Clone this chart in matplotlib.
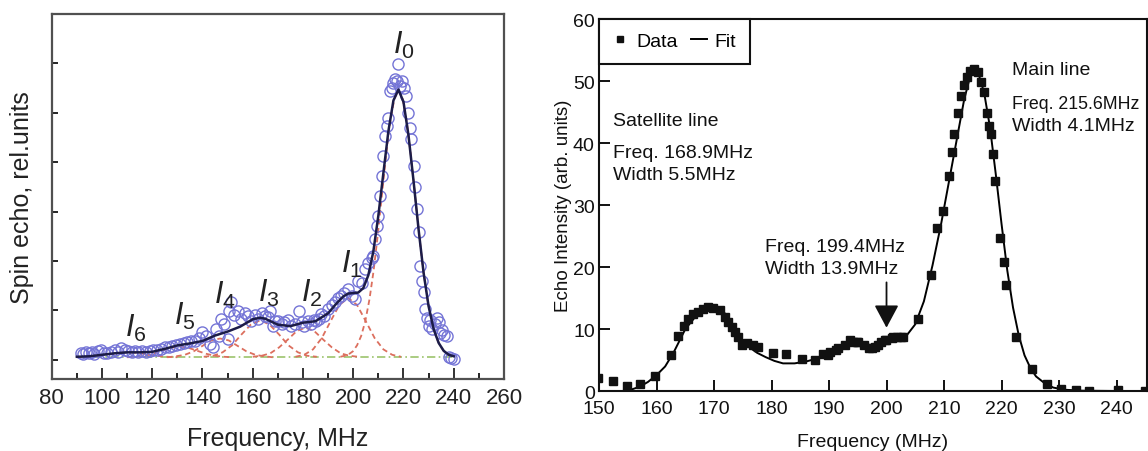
import matplotlib
matplotlib.use("Agg")
import matplotlib.pyplot as plt
from matplotlib.ticker import MultipleLocator

plt.rcParams['font.family'] = ['Liberation Sans', 'DejaVu Sans']
plt.rcParams['mathtext.fontset'] = 'custom'
plt.rcParams['mathtext.rm'] = 'Liberation Sans'
plt.rcParams['mathtext.it'] = 'Liberation Sans:italic'

# ---------------- left panel: spin echo spectrum ----------------
left_freq = [91.5, 92.5, 93.5, 95, 96, 97, 98.5, 99.5, 101, 102, 103.5, 105, 106.5,
             107.5, 109, 110.5, 112, 113, 114.5, 116, 117.5, 119, 120.5, 122, 123.5,
             125, 126.5, 128, 129.5, 131, 132.5, 134, 135.5, 137, 138.5, 140, 141.5,
             143, 144, 145.5, 146.5, 147.5, 148.5, 150, 150.5, 151.5, 152.5, 154,
             155.5, 157, 158, 159.5, 161, 162, 163.5, 165, 166, 167, 168, 169, 170,
             171.5, 172.6, 174, 175.3, 177, 178.6, 179.5, 180.6, 182, 183.3, 184.5,
             185.3, 186.5, 187.3, 188.5, 190, 191.5, 192.6, 194, 195.3, 196.5, 198,
             199.5, 200.6, 202, 203.3, 204.6, 206, 207.3, 208, 208.7, 209.4, 210,
             210.7, 211.3, 212, 212.7, 213.3, 214, 214.6, 215.3, 216, 216.6, 217.3,
             218, 218.7, 219.3, 220.4, 221, 221.7, 222.4, 223, 224, 224.6, 225.3,
             226, 226.7, 227.4, 228, 228.7, 229.4, 230, 230.7, 231.3, 232.5, 233.3,
             234, 234.7, 235.5, 236.3, 237.3, 238, 239, 240]
left_echo = [0.14, 0.12, 0.15, 0.13, 0.16, 0.12, 0.18, 0.20, 0.14, 0.13, 0.16, 0.19, 0.15,
             0.24, 0.20, 0.17, 0.15, 0.18, 0.15, 0.17, 0.16, 0.18, 0.20, 0.20, 0.22,
             0.25, 0.26, 0.27, 0.30, 0.31, 0.33, 0.36, 0.38, 0.37, 0.45, 0.56, 0.48,
             0.32, 0.26, 0.62, 0.49, 0.82, 0.72, 0.42, 0.99, 1.17, 0.90, 0.99,
             0.82, 0.95, 0.89, 0.78, 0.90, 0.82, 0.95, 0.88, 0.86, 0.98, 0.69, 0.78, 0.79,
             0.72, 0.76, 0.80, 0.69, 0.72, 0.99, 0.76, 0.69, 0.78, 0.72, 0.80,
             0.79, 0.82, 0.92, 0.88, 1.03, 1.10, 1.16, 1.25, 1.30, 1.35, 1.43,
             1.30, 1.23, 1.60, 1.55, 1.84, 1.95, 2.05, 2.10, 2.44, 2.70, 2.91,
             3.32, 3.72, 4.13, 4.53, 4.74, 4.90, 5.45, 5.51, 5.60, 5.68, 5.65,
             5.98, 5.55, 5.65, 5.51, 5.34, 5.00, 4.70, 4.47, 3.93, 3.50, 3.05,
             2.58, 1.90, 1.60, 1.37, 1.03, 0.85, 0.69, 0.80, 0.62, 0.72, 0.85,
             0.76, 0.55, 0.60, 0.50, 0.49, 0.05, 0.03, 0.02]

fit_freq = [90, 95, 100, 105, 110, 115, 120, 125, 130, 135, 140, 145, 150, 155, 160,
            163, 165, 170, 175, 180, 185, 190, 193, 196, 198, 200, 202, 204, 206,
            208, 210, 212, 214, 216, 218, 220, 222, 224, 226, 228, 230, 232, 234,
            236, 238, 240]
fit_echo = [0.06, 0.07, 0.10, 0.13, 0.15, 0.15, 0.16, 0.22, 0.29, 0.33, 0.38, 0.49,
            0.57, 0.67, 0.82, 0.85, 0.83, 0.71, 0.68, 0.75, 0.78, 0.94, 1.12, 1.28,
            1.34, 1.35, 1.36, 1.45, 1.71, 2.19, 2.92, 3.78, 4.63, 5.25, 5.47, 5.22,
            4.54, 3.62, 2.64, 1.76, 1.08, 0.62, 0.34, 0.18, 0.10, 0.07]

baseline_freq = [90, 240]
baseline_echo = [0.05, 0.05]

# fitted components I0 .. I6
comp_freq = {
    '0': [194.9, 196.55, 198.2, 199.85, 201.5, 203.15, 204.8, 206.45, 208.1, 209.75,
          211.4, 213.05, 214.7, 216.35, 218, 219.65, 221.3, 222.95, 224.6, 226.25,
          227.9, 229.55, 231.2, 232.85, 234.5, 236.15, 237.8, 239.45],
    '1': [177, 180.5, 184, 187.5, 191, 194.5, 198, 201.5, 205, 208.5, 212, 215.5, 219],
    '2': [160, 163.5, 167, 170.5, 174, 177.5, 181, 184.5, 188, 191.5, 195, 198.5, 202],
    '3': [140.5, 144.25, 148, 151.75, 155.5, 159.25, 163, 166.75, 170.5, 174.25, 178,
          181.75, 185.5],
    '4': [126, 129.5, 133, 136.5, 140, 143.5, 147, 150.5, 154, 157.5, 161, 164.5, 168],
    '5': [110, 113.5, 117, 120.5, 124, 127.5, 131, 134.5, 138, 141.5, 145, 148.5, 152],
    '6': [90, 94, 98, 102, 106, 110, 114, 118, 122, 126, 130],
}
comp_echo = {
    '0': [0.06, 0.08, 0.11, 0.17, 0.29, 0.48, 0.78, 1.22, 1.80, 2.52, 3.33, 4.13, 4.82,
          5.28, 5.45, 5.28, 4.82, 4.13, 3.33, 2.52, 1.80, 1.22, 0.78, 0.48, 0.29, 0.17,
          0.11, 0.08],
    '1': [0.06, 0.10, 0.21, 0.44, 0.78, 1.11, 1.25, 1.11, 0.78, 0.44, 0.21, 0.10, 0.06],
    '2': [0.06, 0.08, 0.13, 0.25, 0.41, 0.58, 0.65, 0.58, 0.41, 0.25, 0.13, 0.08, 0.06],
    '3': [0.06, 0.08, 0.15, 0.29, 0.51, 0.71, 0.80, 0.71, 0.51, 0.29, 0.15, 0.08, 0.06],
    '4': [0.05, 0.07, 0.10, 0.17, 0.28, 0.39, 0.43, 0.39, 0.28, 0.17, 0.10, 0.07, 0.05],
    '5': [0.05, 0.06, 0.08, 0.12, 0.18, 0.24, 0.27, 0.24, 0.18, 0.12, 0.08, 0.06, 0.05],
    '6': [0.05, 0.06, 0.08, 0.11, 0.14, 0.15, 0.14, 0.11, 0.08, 0.06, 0.05],
}
# peak labels: (left edge of "I", baseline)
label_pos = {'0': (216.0, 6.22), '1': (195.3, 1.78), '2': (179.3, 1.19),
             '3': (162.0, 1.19), '4': (144.6, 1.16), '5': (128.5, 0.72),
             '6': (109.3, 0.49)}

# ---------------- right panel: echo intensity ----------------
right_freq = [149.9, 152.5, 154.9, 157.2, 159.7, 162.5, 163.8, 164.7, 165.5, 166.4,
              167.3, 168.1, 169.0, 169.9, 171.0, 171.9, 172.5, 173.1, 173.7, 174.2,
              174.8, 175.7, 176.8, 177.7, 180.3, 182.5, 185.3, 187.6, 188.9, 189.9,
              190.2, 191.3, 191.5, 192.8, 193.7, 194.1, 194.8, 195.0, 196.0, 197.0,
              197.4, 198.0, 198.6, 199.0, 199.7, 199.9, 200.9, 201.2, 201.9, 202.6,
              202.9, 205.5, 207.8, 208.8, 209.8, 210.8, 211.4, 211.7, 212.4, 213.0,
              213.5, 214.0, 214.6, 215.3, 215.9, 216.4, 216.9, 217.4, 217.9, 218.2,
              218.5, 218.9, 219.8, 220.5, 220.8, 222.6, 225.3, 227.9, 230.3, 232.9,
              235.2, 240.2, 245.0]
right_echo = [2.2, 1.6, 0.8, 1.1, 2.4, 5.8, 8.9, 10.6, 11.6, 12.5,
              12.8, 13.3, 13.6, 13.4, 13.1, 12.0, 11.2, 10.4, 9.5, 8.7,
              7.4, 7.8, 7.4, 7.2, 6.1, 6.0, 5.2, 5.1, 6.0, 5.8,
              6.3, 6.6, 6.9, 7.4, 8.2, 8.0, 7.9, 8.0, 7.4, 6.9,
              6.9, 7.1, 7.4, 8.0, 8.2, 8.2, 8.6, 8.7, 8.7, 8.8,
              8.8, 11.7, 18.7, 26.3, 29.0, 34.7, 38.5, 41.4, 44.9, 47.6,
              49.3, 50.6, 51.7, 52.0, 51.4, 49.8, 48.2, 44.9, 42.8, 41.4,
              38.2, 33.9, 24.7, 20.9, 17.1, 8.8, 3.6, 1.2, 0.45, 0.15,
              0.1, 0.15, 0.1]

right_fit_freq = [150, 153, 155, 157, 158.5, 160, 161.5, 163, 165, 167, 168.5, 170,
                  171.5, 173, 174.5, 176, 177.5, 179, 180.5, 182, 184, 186, 188, 190,
                  192, 194, 195, 196, 197.5, 199, 200.5, 202, 203.5, 205, 206.5, 208,
                  209.5, 211, 212.5, 213.5, 214.5, 215.3, 216, 217, 218, 219, 220,
                  221, 222, 223, 224, 225, 226, 227.5, 229, 231, 234, 240, 245.5]
right_fit_echo = [0.0, 0.0, 0.1, 0.7, 1.5, 2.6, 4.0, 6.3, 10.0, 12.3, 13.3, 13.7,
                  13.0, 11.2, 8.8, 7.2, 6.2, 5.5, 4.9, 4.5, 4.5, 4.8, 5.3, 6.1,
                  6.9, 7.7, 8.0, 7.7, 7.3, 7.5, 8.1, 8.5, 9.0, 10.8, 14.5, 20.3,
                  27.0, 34.5, 42.0, 47.0, 50.6, 51.6, 51.2, 48.0, 42.5, 35.0, 27.0,
                  19.5, 13.5, 9.0, 5.8, 3.8, 2.4, 1.3, 0.6, 0.25, 0.1, 0.05, 0.0]

W, H = 1148, 452
fig = plt.figure(figsize=(W / 100, H / 100), dpi=100)

# ---- left ----
ax1 = fig.add_axes([51.7 / W, 1 - 380 / H, 452.3 / W, 365 / H])
spine_col = '#505050'
ax1.plot(baseline_freq, baseline_echo, color='#9cc46c', lw=1.2, ls=(0, (5, 2, 1, 2)))
for k in ['6', '5', '4', '3', '2', '1', '0']:
    ax1.plot(comp_freq[k], comp_echo[k], color='#dc6f5e', lw=1.3, ls=(0, (3, 2)))
ax1.plot(left_freq, left_echo, 'o', ms=8, mfc='none', mec='#7474d6', mew=1.0)
ax1.plot(fit_freq, fit_echo, color='#1c1c48', lw=1.8)
for k, (x, y) in label_pos.items():
    ax1.text(x, y, r'$I_%s$' % k, fontsize=22, color='#222222', ha='left', va='baseline')

ax1.set_xlim(80, 260)
ax1.set_ylim(-0.39, 7.0)
ax1.xaxis.set_major_locator(MultipleLocator(20))
ax1.xaxis.set_minor_locator(MultipleLocator(10))
ax1.yaxis.set_major_locator(MultipleLocator(1))
ax1.set_yticklabels([])
ax1.tick_params(axis='x', which='major', direction='in', length=8, width=1.3,
                labelsize=16, pad=6, colors='#222222')
ax1.tick_params(axis='x', which='minor', direction='in', length=4, width=1.2)
ax1.tick_params(axis='y', direction='in', length=4, width=1.2, left=True)
for s in ax1.spines.values():
    s.set_color(spine_col)
    s.set_linewidth(1.6)
ax1.set_xlabel('Frequency, MHz', fontsize=18, color='#222222')
ax1.xaxis.set_label_coords(0.5, -0.13)
ax1.set_ylabel('Spin echo, rel.units', fontsize=18, color='#222222')
ax1.yaxis.set_label_coords(-0.04, 0.5)

# ---- right ----
ax2 = fig.add_axes([599 / W, 1 - 392.3 / H, 548 / W, 372.3 / H])
ax2.plot(right_fit_freq, right_fit_echo, color='black', lw=1.4, label='Fit')
ax2.plot(right_freq, right_echo, 's', ms=6.2, color='#111111', label='Data', ls='none')
ax2.set_xlim(150, 245.3)
ax2.set_ylim(0, 60)
ax2.xaxis.set_major_locator(MultipleLocator(10))
ax2.yaxis.set_major_locator(MultipleLocator(10))
ax2.tick_params(direction='in', length=8, width=1.4, labelsize=14, pad=3,
                colors='#111111')
ax2.tick_params(axis='x', pad=6)
for s in ax2.spines.values():
    s.set_linewidth(1.5)
    s.set_color('#111111')
handles, labels = ax2.get_legend_handles_labels()
leg = ax2.legend(handles[::-1], labels[::-1], ncol=2, loc='upper left',
                 bbox_to_anchor=(0, 1), borderaxespad=0, fancybox=False,
                 framealpha=1, edgecolor='#111111', fontsize=14,
                 handlelength=0.8, handletextpad=0.4, columnspacing=0.7,
                 borderpad=0.7, markerscale=0.7)
leg.get_frame().set_linewidth(1.5)

txt = dict(fontsize=14, color='#111111', ha='left', va='center')
ax2.text(152.4, 43.6, 'Satellite line', **txt)
ax2.text(152.4, 38.5, 'Freq. 168.9MHz', **txt)
ax2.text(152.4, 34.9, 'Width 5.5MHz', **txt)
ax2.text(178.9, 23.3, 'Freq. 199.4MHz', **txt)
ax2.text(178.9, 19.8, 'Width 13.9MHz', **txt)
ax2.text(221.9, 51.8, 'Main line', **txt)
ax2.text(221.9, 46.4, 'Freq. 215.6MHz', fontsize=12.8, color='#111111',
         ha='left', va='center')
ax2.text(221.9, 42.8, 'Width 4.1MHz', **txt)
ax2.annotate('', xy=(200.0, 9.8), xytext=(200.0, 18.0),
             arrowprops=dict(arrowstyle='-|>,head_length=1.4,head_width=0.75',
                             color='#111111', lw=1.3))
ax2.set_xlabel('Frequency (MHz)', fontsize=14, color='#111111')
ax2.xaxis.set_label_coords(0.5, -0.112)
ax2.set_ylabel('Echo Intensity (arb. units)', fontsize=13.5, color='#111111')
ax2.yaxis.set_label_coords(-0.05, 0.5)

fig.savefig('out.png', dpi=100)
